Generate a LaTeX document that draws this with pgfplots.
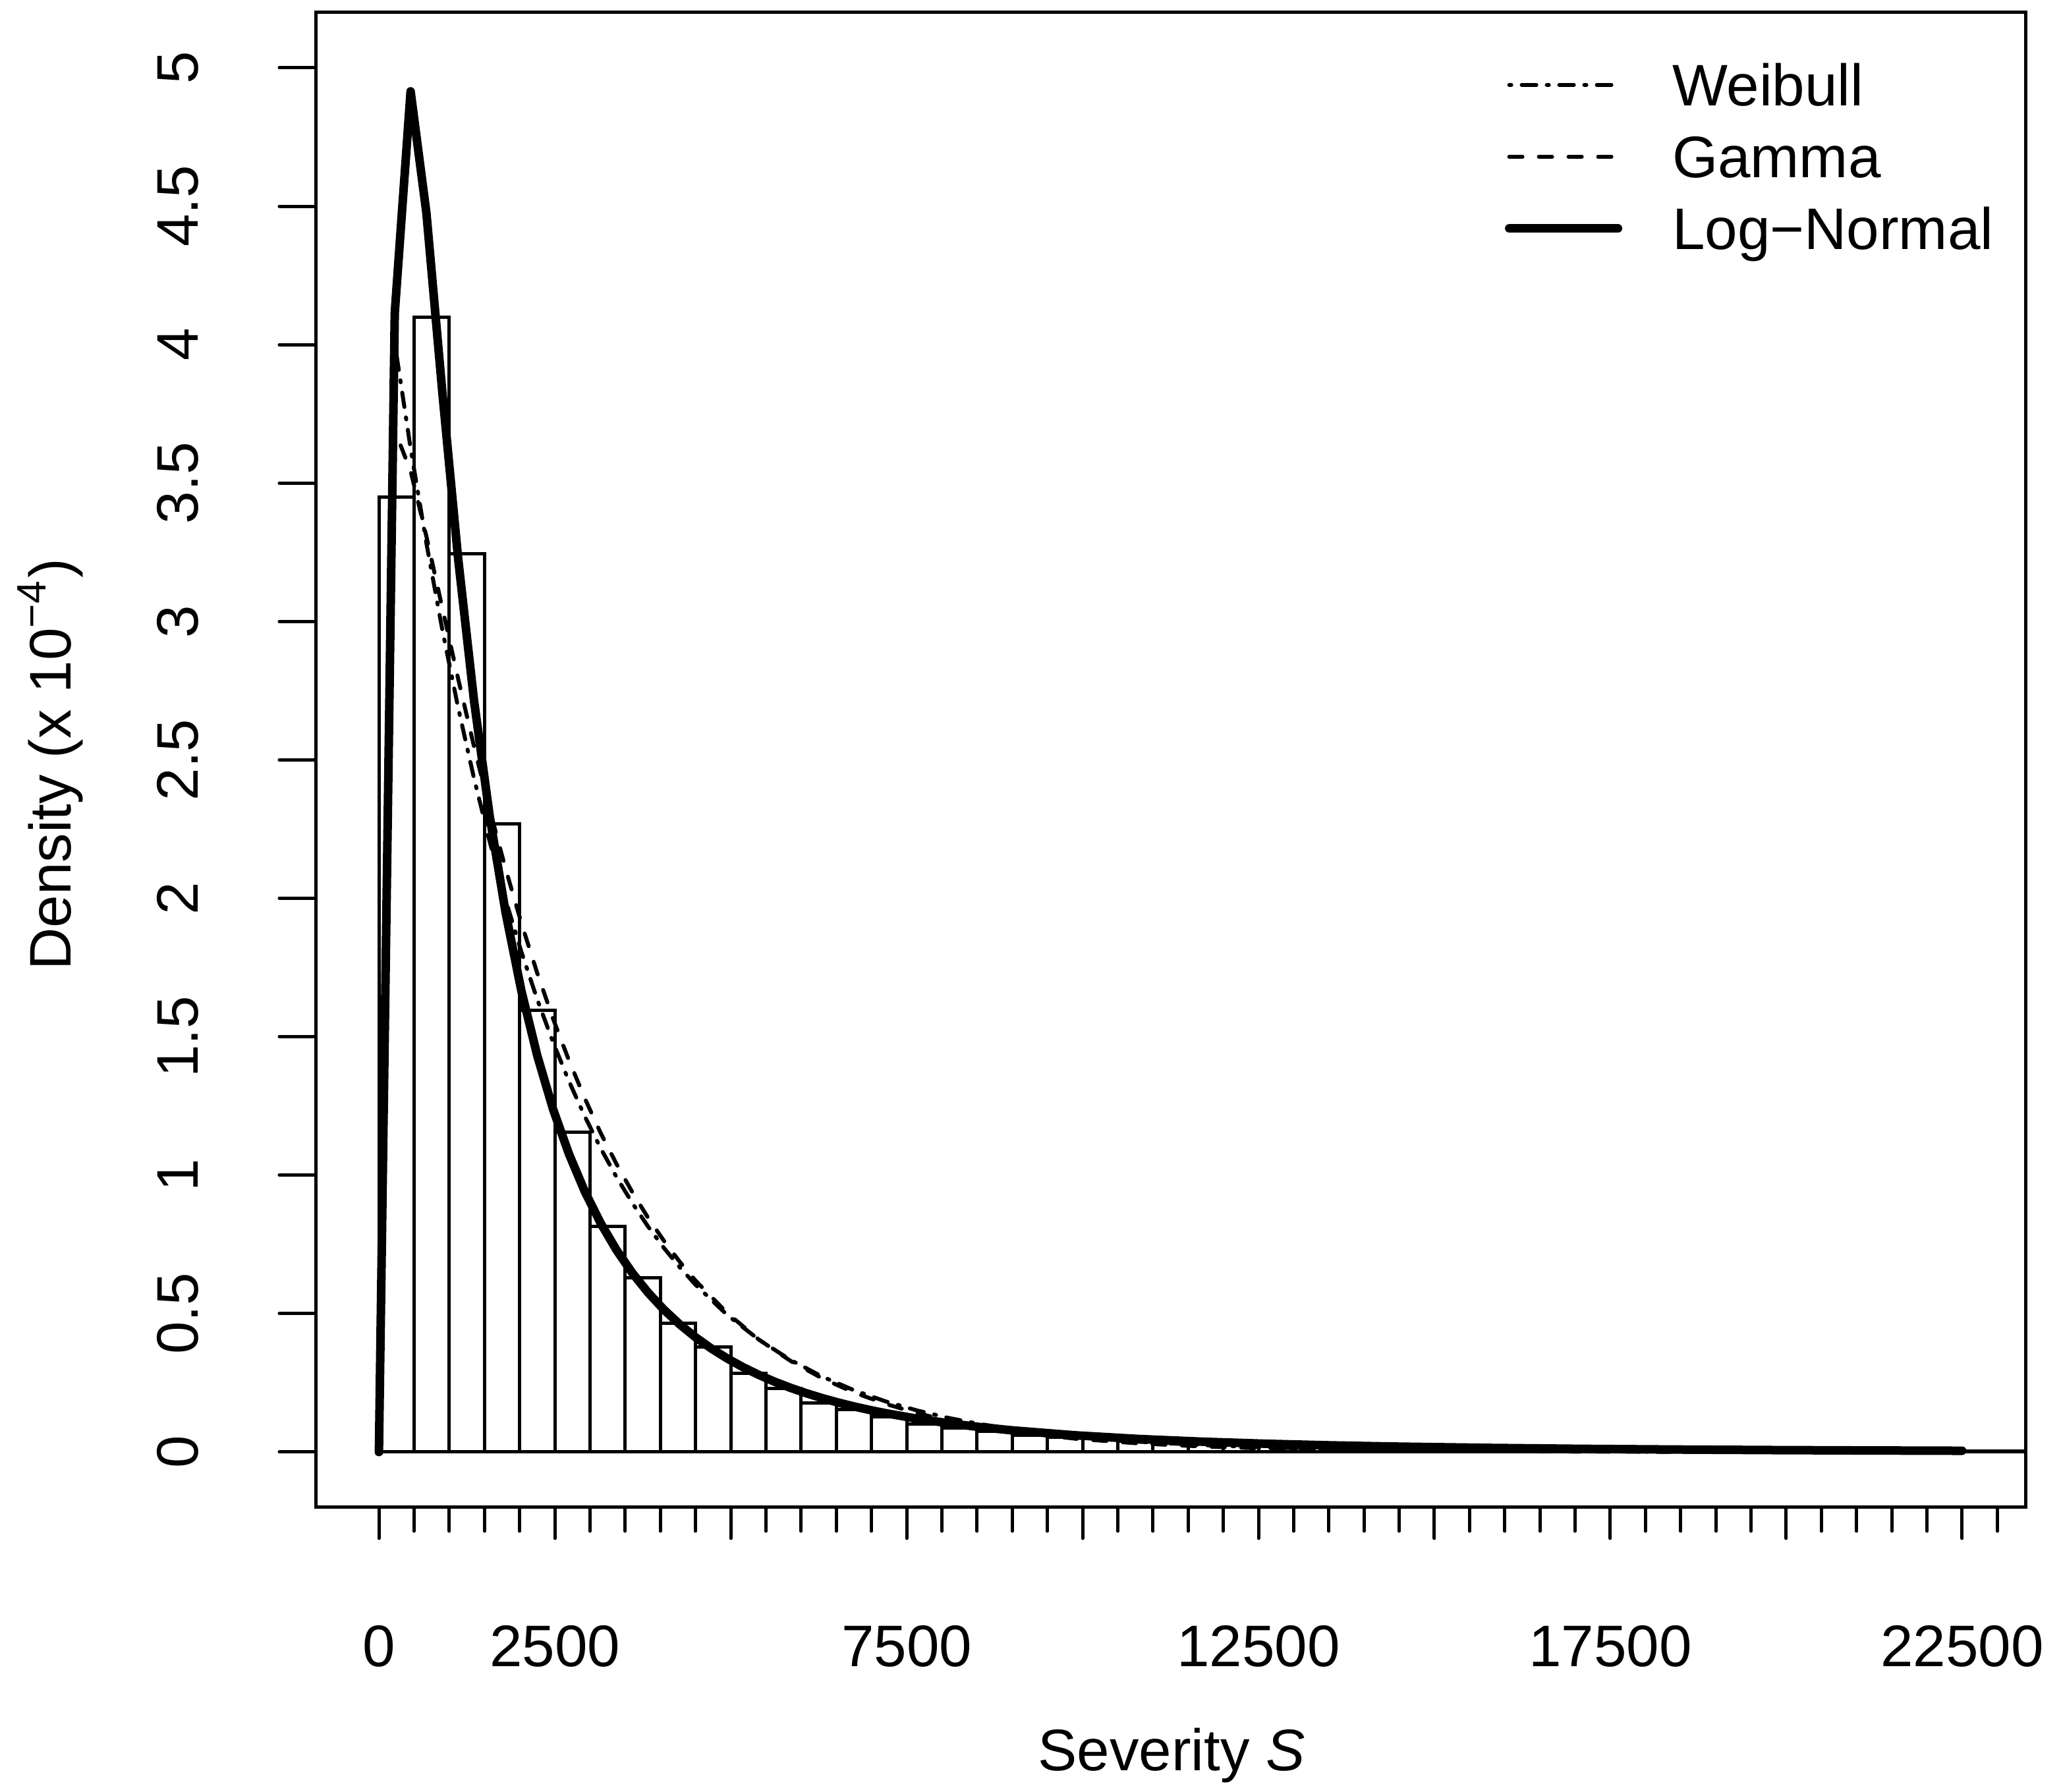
\documentclass[border=0pt]{standalone}
\usepackage{fontspec}
\setmainfont{Liberation Sans}
\usepackage{pgfplots}
\pgfplotsset{compat=1.18}
\begin{document}
\fontsize{8.9}{10.7}\selectfont
\begin{tikzpicture}[font=\fontsize{8.9}{10.7}\selectfont]
\begin{axis}[
  at={(0,0)}, anchor=south west,
  scale only axis, width=259.5pt, height=226.9pt,
  xmin=-900, xmax=23400, ymin=-0.2, ymax=5.2,
  axis line style={line width=0.5pt},
  every tick/.style={black, line width=0.5pt, line cap=round},
  tick align=outside, tick pos=left,
  major tick length=4.7pt, minor tick length=3.6pt,
  ytick style={/pgfplots/major tick length=5.5pt},
  xtick={0,2500,...,22500},
  xticklabels={0,2500,,7500,,12500,,17500,,22500},
  minor xtick={0,500,...,23000},
  ytick={0,0.5,...,5},
  yticklabels={0,0.5,1,1.5,2,2.5,3,3.5,4,4.5,5},
  xticklabel style={anchor=base, yshift=-19.5pt, inner sep=0pt},
  yticklabel style={xshift=-13.1pt, rotate=90, anchor=base, inner sep=0pt},
  tick label style={font=\fontsize{8.9}{10.7}\selectfont},
  xlabel={Severity \textit{S}},
  ylabel={Density (x 10\textsuperscript{−4})},
  every axis x label/.style={at={(axis description cs:0.5006,-0.17585)}, anchor=base, inner sep=0pt},
  every axis y label/.style={at={(axis description cs:-0.14297,0.4971)}, rotate=90, anchor=base, inner sep=0pt},
  legend image code/.code={\draw[#1, line cap=round] (0pt,0pt) -- (16.5pt,0pt);},
  legend cell align=left,
  legend style={at={(axis description cs:0.6956,0.96558)}, anchor=north west,
    draw=none, fill=none, inner sep=0pt, outer sep=0pt,
    row sep=4.53pt, column sep=7.6pt,
    nodes={inner sep=0pt, outer sep=0pt, text height=6.37pt, text depth=0pt},
    font=\fontsize{8.9}{10.7}\selectfont},
]
% histogram
\addplot[ybar interval, draw=black, fill=none, line width=0.5pt, forget plot] coordinates {
(0,3.45) (500,4.10) (1000,3.245) (1500,2.27) (2000,1.595) (2500,1.155) (3000,0.815)
(3500,0.63) (4000,0.465) (4500,0.38) (5000,0.285) (5500,0.229) (6000,0.176) (6500,0.153)
(7000,0.127) (7500,0.102) (8000,0.087) (8500,0.074) (9000,0.061) (9500,0.053) (10000,0.048)
(10500,0.038) (11000,0.034) (11500,0.030) (12000,0.027) (12500,0.024) (13000,0.021)
(13500,0.019) (14000,0.017) (14500,0.015) (15000,0.013) (15500,0.012) (16000,0.011)
(16500,0.010) (17000,0.009) (17500,0.008) (18000,0.007) (18500,0.0065) (19000,0.006)
(19500,0.0055) (20000,0.005) (20500,0.0045) (21000,0.004) (21500,0.004) (22000,0.0035)
(22500,0.003) (23000,0.003) (23500,0.003)};
% Weibull
\addplot[black, line width=0.6pt, line cap=round, dash pattern=on 0.3pt off 1.6pt on 2.2pt off 1.6pt] coordinates {
(225,4.0055) (450,3.6259) (675,3.2823) (900,2.9712) (1125,2.6897) (1350,2.4348) (1575,2.2041)
(1800,1.9952) (2025,1.8061) (2250,1.6350) (2475,1.4800) (2700,1.3398) (2925,1.2128) (3150,1.0979)
(3375,0.9938) (3600,0.8997) (3825,0.8144) (4050,0.7372) (4275,0.6674) (4500,0.6041) (4950,0.4950)
(5400,0.4057) (5850,0.3324) (6300,0.2724) (6750,0.2232) (7200,0.1829) (7650,0.1499) (8100,0.1228)
(8550,0.1006) (9000,0.0825) (9900,0.0554) (10800,0.0372) (11700,0.0250) (12600,0.0168)
(13500,0.0113) (14400,0.0076) (15300,0.0051) (16200,0.0034) (17100,0.0023) (18000,0.0015)
(18900,0.0010) (19800,0.0007) (20700,0.0005) (21600,0.0003) (22500,0.0002)};
\addlegendentry{Weibull}
% Gamma
\addplot[black, line width=0.6pt, line cap=round, dash pattern=on 2.0pt off 2.5pt] coordinates {
(0,0) (225,3.690) (450,3.544) (675,3.307) (900,3.050) (1125,2.794) (1350,2.550) (1575,2.320)
(1800,2.107) (2025,1.910) (2250,1.730) (2475,1.565) (2700,1.415) (2925,1.278) (3150,1.153)
(3375,1.041) (3600,0.939) (3825,0.846) (4050,0.763) (4275,0.687) (4500,0.619) (4950,0.502)
(5400,0.406) (5850,0.329) (6300,0.266) (6750,0.215) (7200,0.174) (7650,0.140) (8100,0.113)
(8550,0.092) (9000,0.074) (9900,0.048) (10800,0.031) (11700,0.020) (12600,0.013) (13500,0.0086)
(14400,0.0056) (15300,0.0036) (16200,0.0023) (17100,0.0015) (18000,0.0010) (18900,0.0006)
(19800,0.0004) (20700,0.0003) (21600,0.0002) (22500,0.0001)};
\addlegendentry{Gamma}
% Log-Normal
\addplot[black, line width=1.3pt, line cap=round, line join=round] coordinates {
(0,0) (225,4.115) (450,4.915) (675,4.475) (900,3.831) (1125,3.229) (1350,2.717) (1575,2.295)
(1800,1.949) (2025,1.665) (2250,1.432) (2475,1.238) (2700,1.077) (2925,0.9415) (3150,0.8272)
(3375,0.7301) (3600,0.6471) (3825,0.5758) (4050,0.5142) (4275,0.4609) (4500,0.4144) (4725,0.3737)
(4950,0.3379) (5175,0.3064) (5400,0.2785) (5625,0.2538) (5850,0.2318) (6075,0.2122) (6300,0.1946)
(6525,0.1788) (6750,0.1646) (6975,0.1518) (7200,0.1402) (7650,0.1202) (8100,0.1037) (8550,0.0898)
(9000,0.0782) (9900,0.0602) (10800,0.0470) (11700,0.0373) (12600,0.0299) (13500,0.0242)
(14400,0.0198) (15750,0.0149) (17100,0.0114) (18450,0.0089) (19800,0.0070) (21150,0.0056)
(22500,0.0045)};
\addlegendentry{Log−Normal}
\end{axis}
\pgfresetboundingbox
\path[use as bounding box] (-47.9pt,-43.2pt) rectangle (264.9pt,228.8pt);
\end{tikzpicture}
\end{document}
